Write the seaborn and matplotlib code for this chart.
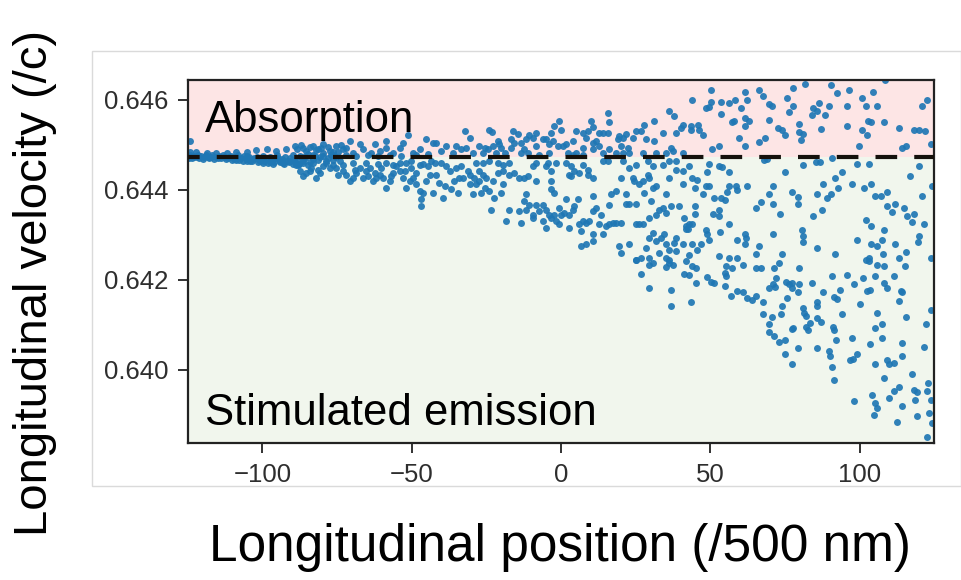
import numpy as np
import pandas as pd
import matplotlib
matplotlib.use("Agg")
import matplotlib.pyplot as plt
import matplotlib.patches as patches
import seaborn as sns

# =========================
# Data
# =========================
THRESHOLD = 0.64472          # resonance velocity (dashed line)
X_LIM = (-125, 125)
Y_LIM = (0.63837, 0.64644)
X_TICKS = [-100, -50, 0, 50, 100]
Y_TICKS = [0.640, 0.642, 0.644, 0.646]

# dense band right on the line, x < -75
band_x = [-124.8, -124.2, -123.5, -122.9, -122.0, -121.2, -120.5, -119.6, -118.8, -118.0,
          -117.1, -116.3, -115.5, -114.6, -113.8, -112.9, -112.1, -111.2, -110.4, -109.5,
          -108.7, -107.8, -107.0, -106.1, -105.3, -104.4, -103.5, -102.7, -101.8, -101.0,
          -100.1, -99.3, -98.4, -97.6, -96.7, -95.9, -95.0, -94.2, -93.3, -92.5,
          -91.6, -90.8, -89.9, -89.1, -88.2, -87.4, -86.5, -85.7, -84.8, -84.0,
          -83.1, -82.3, -81.4, -80.6, -79.7, -78.8, -78.0, -77.1, -76.3, -75.4, -74.6,
          -124.5, -123.0, -121.6, -120.0, -118.3, -116.8, -115.0, -113.3, -111.6, -110.0,
          -108.2, -106.6, -105.0, -103.0, -101.4, -99.8, -98.0, -96.2, -94.6, -92.9,
          -91.2, -89.5, -87.8, -86.0]
band_y = [0.64474, 0.64478, 0.64471, 0.64476, 0.64473, 0.64470, 0.64475, 0.64472, 0.64477, 0.64471,
          0.64474, 0.64469, 0.64473, 0.64476, 0.64470, 0.64474, 0.64468, 0.64472, 0.64475, 0.64469,
          0.64473, 0.64466, 0.64471, 0.64475, 0.64468, 0.64472, 0.64465, 0.64470, 0.64474, 0.64467,
          0.64471, 0.64463, 0.64469, 0.64474, 0.64466, 0.64471, 0.64477, 0.64462, 0.64468, 0.64474,
          0.64465, 0.64471, 0.64478, 0.64461, 0.64468, 0.64475, 0.64464, 0.64470, 0.64479, 0.64462,
          0.64468, 0.64476, 0.64466, 0.64472, 0.64481, 0.64463, 0.64470, 0.64478, 0.64467, 0.64474, 0.64484,
          0.64470, 0.64474, 0.64477, 0.64469, 0.64474, 0.64478, 0.64470, 0.64477, 0.64471, 0.64466,
          0.64477, 0.64464, 0.64476, 0.64468, 0.64461, 0.64476, 0.64460, 0.64462, 0.64470, 0.64458,
          0.64461, 0.64466, 0.64457, 0.64473]

# left part, x from -125 to -42
left_x = [-51.2, -70.8, -67.4, -62.4, -58.5, -54.0, -124.3, -45.1, -42.9, -79.7,
          -83.0, -86.4, -85.3, -92.0, -95.3, -98.6, -102.0, -105.3, -108.7, -112.0,
          -115.4, -118.7, -122.1, -124.3, -75.2, -73.0, -66.3, -60.7, -56.3, -49.6,
          -47.3, -89.2, -81.4, -77.5, -69.7, -63.5, -52.9, -58.5,
          -108.7, -105.3, -104.2, -100.9, -99.8, -97.5, -96.4, -94.2, -93.1, -90.9,
          -89.7, -88.0, -86.4, -84.7, -83.0,
          -88.6, -87.5, -86.4, -85.3, -83.6, -81.9, -80.8, -79.7, -78.6, -77.5,
          -76.3, -75.2, -74.1, -71.9, -70.8, -69.7, -68.5, -67.4, -66.3, -65.2,
          -64.1, -63.0, -61.9, -60.7, -59.6, -58.5, -57.4, -56.3, -55.2, -54.0,
          -52.9, -51.8, -50.7, -49.6, -48.5, -47.3, -46.8, -46.8, -46.2, -42.9,
          -45.1, -44.0, -58.5, -54.0, -47.3, -51.8, -69.7, -73.0,
          -84.1, -81.4, -74.7, -73.0, -69.1, -64.6, -62.4, -60.2, -56.8, -52.4,
          -50.1, -48.5, -44.6, -42.3, -65.2, -61.3, -56.3, -50.1, -46.2, -43.4,
          -71.9, -68.5, -64.6, -61.3, -57.4, -53.5, -48.5, -44.6, -83.0, -79.7, -76.3,
          -88.5, -87.0, -84.2, -82.0, -80.3, -78.0, -76.5, -73.8, -72.0]
left_y = [0.64522, 0.64508, 0.64501, 0.64502, 0.64493, 0.64493, 0.64508, 0.64512, 0.64504, 0.64501,
          0.64497, 0.64493, 0.64486, 0.64490, 0.64486, 0.64490, 0.64488, 0.64485, 0.64485, 0.64482,
          0.64482, 0.64482, 0.64485, 0.64485, 0.64497, 0.64490, 0.64490, 0.64486, 0.64482, 0.64482,
          0.64490, 0.64497, 0.64490, 0.64486, 0.64482, 0.64482, 0.64504, 0.64508,
          0.64467, 0.64465, 0.64464, 0.64464, 0.64460, 0.64462, 0.64458, 0.64464, 0.64460, 0.64464,
          0.64458, 0.64455, 0.64460, 0.64456, 0.64460,
          0.64456, 0.64441, 0.64430, 0.64438, 0.64449, 0.64427, 0.64438, 0.64453, 0.64460, 0.64449,
          0.64456, 0.64449, 0.64464, 0.64434, 0.64419, 0.64427, 0.64438, 0.64449, 0.64427, 0.64441,
          0.64449, 0.64419, 0.64427, 0.64434, 0.64427, 0.64405, 0.64419, 0.64438, 0.64453, 0.64441,
          0.64427, 0.64405, 0.64419, 0.64427, 0.64412, 0.64397, 0.64379, 0.64364, 0.64393, 0.64393,
          0.64419, 0.64434, 0.64460, 0.64460, 0.64456, 0.64460, 0.64460, 0.64456,
          0.64441, 0.64445, 0.64434, 0.64441, 0.64445, 0.64430, 0.64438, 0.64449, 0.64430, 0.64441,
          0.64449, 0.64438, 0.64453, 0.64460, 0.64460, 0.64458, 0.64455, 0.64464, 0.64458, 0.64464,
          0.64478, 0.64475, 0.64478, 0.64475, 0.64477, 0.64475, 0.64477, 0.64480, 0.64478, 0.64475, 0.64477,
          0.64490, 0.64499, 0.64495, 0.64488, 0.64492, 0.64495, 0.64485, 0.64500, 0.64492]

# middle part, x from -42 to 42
mid_x = [15.6, 16.2, 10.0, 10.6, 8.9, -0.5, -2.5, -3.3, 0.0, -5.0,
         -8.4, -9.5, -10.6, -11.7, -14.5, -16.2, -16.7, -15.6, -16.7, -24.0,
         -23.1, -21.2, -32.3, -30.6, -38.5, -41.8, -35.1, -33.4, -31.8, -27.3,
         -25.6, -26.2, -24.5, -22.8, -20.6, -20.1, -18.9, -13.4, -12.3, -11.1,
         -8.4, -6.1, -3.9, -2.8, -1.1, 0.6, 1.7, 3.9, 5.0, 7.3,
         8.4, 7.3, 10.6, 12.8, 14.0, 15.6, 11.7, 10.6, 12.8, 16.2,
         19.0, 19.5, 20.6, 21.8, 24.0, 20.1, 22.3, 25.1, 26.8, 27.9,
         28.4, 31.2, 31.2, 34.0, 36.3, 37.9, 38.5, 40.2, 40.7, 36.8,
         37.4, 40.7, 2.2, 3.9, 5.0, 7.3, 14.0, 18.4, 20.6, 35.1,
         31.8, 27.3, 22.9, -3.9, -7.2, -13.4, -21.7, -29.5, -36.2, -40.1,
         # below the line
         -40.1, -38.5, -41.8, -37.3, -35.1, -33.4, -31.2, -28.4, -26.2, -24.0,
         -21.2, -19.5, -17.3, -40.7, -39.0, -36.8, -35.7, -34.6, -34.0, -32.9,
         -30.6, -30.6, -29.0, -28.4, -27.3, -27.3, -26.2, -25.6, -25.1, -24.0,
         -22.8, -22.3, -39.6, -29.5, -26.7, -20.1, -19.5, -21.2, -19.5, -17.3,
         -15.6, -13.9, -12.3, -11.1, -8.4, -9.5, -8.4, -5.0, -3.3, -3.3,
         -3.3, -2.2, -4.5, -1.7, 1.7, 3.4, 2.8, 4.5, 3.4, 6.1,
         7.3, 8.9, 8.9, 10.6, 14.0, 15.6, 10.6, 5.6, 1.7, -11.7,
         -12.3, -10.6, -11.7, -9.5, -8.4, -7.2, -6.1, -5.0, -3.9, -2.2,
         -0.5, 0.0, 1.1, 2.8, 3.9, 4.5, -23.4, -17.3, -18.4, -13.9,
         -13.4, -9.5, -6.1, -5.0, -3.3, -1.7, -0.5, 2.8, 6.1, 7.3,
         8.4, 9.5, 10.6, 11.7, 13.4, 12.8, 14.0, 15.1, 10.6, 10.6,
         6.7, 6.7, 8.4, 16.2, 16.7, 18.4, 21.8, 21.8, 22.9, 25.1,
         20.1, 22.9, 24.0, 24.5, 26.2, 27.3, 27.9, 29.0, 29.6, 30.7,
         31.8, 35.1, 36.3, 38.5, 40.7, 30.1, 31.8, 32.9, 34.0, 35.1,
         36.8, 39.6, 16.2, 17.3, 18.4, 20.1, 25.1, 26.2, 27.3, 29.6,
         30.7, 29.6, 31.8, 33.5, 34.6, 35.1, 36.3, 37.9, 38.5, 19.5,
         20.1, 22.9, 25.1, 26.8, 28.4, 29.6, 32.9, 35.1, 36.3, 38.5,
         40.7, 41.3, 41.8, 40.7, 20.6, 25.1, 29.0, 30.7, 34.0, 36.3, 38.5,
         25.1, 29.6, 30.7, 35.1, 36.3, 37.4, 26.8, 29.6, 36.8, 36.8, 41.3]
mid_y = [0.64570, 0.64551, 0.64553, 0.64539, 0.64530, 0.64553, 0.64541, 0.64527, 0.64533, 0.64512,
         0.64527, 0.64516, 0.64522, 0.64512, 0.64524, 0.64530, 0.64512, 0.64504, 0.64493, 0.64534,
         0.64529, 0.64508, 0.64530, 0.64516, 0.64497, 0.64504, 0.64497, 0.64490, 0.64493, 0.64497,
         0.64493, 0.64482, 0.64490, 0.64497, 0.64501, 0.64493, 0.64482, 0.64504, 0.64490, 0.64482,
         0.64497, 0.64512, 0.64501, 0.64508, 0.64497, 0.64497, 0.64501, 0.64508, 0.64530, 0.64527,
         0.64516, 0.64493, 0.64504, 0.64527, 0.64527, 0.64527, 0.64508, 0.64490, 0.64497, 0.64490,
         0.64512, 0.64519, 0.64516, 0.64523, 0.64516, 0.64497, 0.64493, 0.64530, 0.64530, 0.64545,
         0.64512, 0.64553, 0.64508, 0.64527, 0.64575, 0.64564, 0.64527, 0.64538, 0.64545, 0.64493,
         0.64486, 0.64482, 0.64482, 0.64478, 0.64482, 0.64478, 0.64482, 0.64482, 0.64482, 0.64482,
         0.64482, 0.64482, 0.64482, 0.64482, 0.64478, 0.64482, 0.64482, 0.64482, 0.64482, 0.64486,
         # below the line
         0.64460, 0.64453, 0.64434, 0.64441, 0.64449, 0.64453, 0.64441, 0.64460, 0.64460, 0.64464,
         0.64460, 0.64456, 0.64460, 0.64415, 0.64408, 0.64401, 0.64419, 0.64393, 0.64427, 0.64427,
         0.64434, 0.64412, 0.64427, 0.64412, 0.64419, 0.64441, 0.64434, 0.64405, 0.64427, 0.64397,
         0.64419, 0.64382, 0.64382, 0.64390, 0.64393, 0.64393, 0.64412, 0.64438, 0.64441, 0.64434,
         0.64438, 0.64427, 0.64427, 0.64430, 0.64419, 0.64453, 0.64460, 0.64453, 0.64441, 0.64419,
         0.64401, 0.64393, 0.64460, 0.64460, 0.64460, 0.64453, 0.64434, 0.64441, 0.64430, 0.64438,
         0.64456, 0.64445, 0.64434, 0.64427, 0.64464, 0.64464, 0.64386, 0.64379, 0.64379, 0.64390,
         0.64375, 0.64367, 0.64356, 0.64345, 0.64367, 0.64353, 0.64367, 0.64356, 0.64345, 0.64345,
         0.64360, 0.64345, 0.64349, 0.64345, 0.64356, 0.64364, 0.64356, 0.64356, 0.64330, 0.64353,
         0.64327, 0.64338, 0.64330, 0.64316, 0.64338, 0.64330, 0.64323, 0.64316, 0.64323, 0.64330,
         0.64327, 0.64330, 0.64353, 0.64360, 0.64345, 0.64323, 0.64301, 0.64319, 0.64301, 0.64286,
         0.64308, 0.64275, 0.64279, 0.64367, 0.64390, 0.64397, 0.64390, 0.64369, 0.64369, 0.64369,
         0.64427, 0.64449, 0.64427, 0.64419, 0.64412, 0.64419, 0.64393, 0.64434, 0.64427, 0.64405,
         0.64408, 0.64390, 0.64427, 0.64445, 0.64412, 0.64375, 0.64345, 0.64356, 0.64360, 0.64349,
         0.64364, 0.64364, 0.64323, 0.64327, 0.64327, 0.64327, 0.64323, 0.64323, 0.64323, 0.64338,
         0.64304, 0.64293, 0.64286, 0.64293, 0.64301, 0.64279, 0.64267, 0.64282, 0.64293, 0.64275,
         0.64260, 0.64279, 0.64245, 0.64249, 0.64271, 0.64249, 0.64260, 0.64249, 0.64245, 0.64264,
         0.64279, 0.64338, 0.64312, 0.64441, 0.64464, 0.64456, 0.64464, 0.64453, 0.64456, 0.64464, 0.64464,
         0.64244, 0.64234, 0.64237, 0.64228, 0.64237, 0.64234, 0.64213, 0.64181, 0.64178, 0.64141, 0.64213]

# right part, x from 42 to 125, above the line
right_up_x = [81.7, 108.5, 90.5, 92.5, 50.2, 61.6, 66.3, 67.7, 77.7, 96.4,
              104.6, 44.0, 50.2, 48.5, 49.6, 53.5, 56.1, 58.3, 62.4, 60.2,
              69.7, 70.6, 75.8, 77.7, 76.4, 86.4, 84.5, 85.6, 84.0, 88.4,
              89.7, 95.9, 100.7, 102.0, 105.9, 122.6, 121.0, 53.5, 57.2, 58.0,
              61.6, 63.0, 61.6, 69.7, 43.5, 43.5, 46.0, 46.3, 47.4, 72.5,
              74.1, 75.0, 79.7, 79.7, 81.0, 80.4, 87.0, 95.9, 100.7, 102.9,
              103.7, 102.6, 108.1, 113.2, 118.2, 119.8, 121.9, 59.6, 61.6, 66.3,
              68.3, 50.7, 53.0, 99.8, 114.3, 115.4, 123.8]
right_up_y = [0.64636, 0.64643, 0.64633, 0.64616, 0.64621, 0.64618, 0.64622, 0.64608, 0.64627, 0.64621,
              0.64618, 0.64600, 0.64596, 0.64582, 0.64584, 0.64596, 0.64593, 0.64600, 0.64600, 0.64582,
              0.64591, 0.64587, 0.64603, 0.64587, 0.64573, 0.64593, 0.64582, 0.64575, 0.64566, 0.64566,
              0.64587, 0.64587, 0.64603, 0.64587, 0.64587, 0.64600, 0.64587, 0.64569, 0.64550, 0.64554,
              0.64559, 0.64553, 0.64541, 0.64556, 0.64541, 0.64534, 0.64545, 0.64534, 0.64522, 0.64538,
              0.64533, 0.64522, 0.64547, 0.64529, 0.64524, 0.64510, 0.64536, 0.64541, 0.64533, 0.64554,
              0.64551, 0.64521, 0.64551, 0.64538, 0.64533, 0.64533, 0.64530, 0.64516, 0.64498, 0.64507,
              0.64516, 0.64490, 0.64498, 0.64498, 0.64493, 0.64497, 0.64501]

# right part, x from 42 to 125, below the line
right_dn_x = [42.7, 49.6, 53.0, 53.8, 56.3, 68.0, 69.1, 75.0, 81.0, 85.3,
              86.6, 90.9, 94.0, 99.2, 103.1, 119.8, 44.0, 45.7, 49.0, 48.5,
              49.6, 44.9, 56.3, 58.5, 59.1, 62.4, 71.1, 47.4, 51.3, 53.5,
              55.0, 55.7, 69.7, 77.3, 79.2, 79.2, 85.8, 87.7, 89.2, 90.4,
              91.8, 92.9, 97.5, 101.5, 103.8, 105.1, 107.0, 109.3, 109.3, 110.9,
              112.0, 114.8, 116.0, 118.2, 117.4, 121.0, 116.7, 124.3, 44.9, 44.9,
              51.0, 53.0, 53.0, 65.2, 66.9, 71.1, 73.4, 84.5, 87.3, 102.0,
              103.7, 108.0, 121.5, 41.8, 42.9, 44.0, 42.4, 48.5, 49.0, 49.6,
              53.2, 56.3, 61.6, 62.1, 61.6, 59.1, 71.1, 80.8, 81.0, 81.0,
              85.8, 91.8, 99.2, 103.7, 105.9, 107.4, 112.0, 115.4, 119.8, 119.6,
              44.0, 46.8, 45.7, 42.9, 53.0, 56.3, 59.1, 65.2, 66.3, 73.9,
              103.1, 107.9, 113.2, 123.8,
              41.8, 44.0, 45.1, 42.9, 45.1, 43.5, 55.2, 55.0, 55.2, 55.0,
              57.4, 60.8, 65.2, 66.9, 71.4, 73.0, 79.7, 48.8, 50.2, 51.3,
              59.1, 60.8, 62.4, 64.1, 65.4, 67.7, 56.9, 69.7, 71.0, 71.9,
              71.7, 75.3, 76.4, 77.3, 77.5, 79.2, 79.7, 84.0, 75.8, 74.1,
              73.6, 70.8, 67.7, 69.7, 69.7, 71.4, 73.0, 75.0, 75.0, 77.3,
              79.2, 77.3, 77.7, 81.0, 81.4, 81.9, 81.9, 82.8, 83.3, 85.8,
              85.8, 85.8, 87.0, 85.8, 87.7, 90.9, 89.7, 90.0, 90.9, 91.3,
              91.1, 91.3, 92.0, 91.4, 92.5, 93.3, 94.0, 95.9, 98.1, 100.0,
              97.5, 96.7, 97.9, 99.2, 101.1, 102.6, 103.4, 103.4, 105.3, 105.9,
              108.1, 108.1, 109.3, 111.5, 105.3, 105.9, 107.4, 107.6, 105.3, 109.3,
              110.0, 111.5, 113.7, 114.3, 113.2, 115.2, 115.4, 114.1, 114.1, 117.4,
              108.1, 118.2, 119.3, 122.6, 123.8, 122.1, 121.5, 123.0, 123.8, 118.7,
              113.2, 110.0, 111.5, 104.0, 105.3, 105.9, 104.8, 98.1, 114.1, 112.6,
              119.3, 123.2, 124.1, 122.6, 102.0, 103.1]
right_dn_y = [0.64453, 0.64458, 0.64453, 0.64450, 0.64440, 0.64467, 0.64469, 0.64440, 0.64456, 0.64462,
              0.64462, 0.64471, 0.64440, 0.64458, 0.64458, 0.64453, 0.64427, 0.64422, 0.64440, 0.64408,
              0.64409, 0.64405, 0.64408, 0.64409, 0.64400, 0.64409, 0.64409, 0.64391, 0.64382, 0.64382,
              0.64378, 0.64396, 0.64391, 0.64396, 0.64384, 0.64369, 0.64391, 0.64413, 0.64382, 0.64391,
              0.64427, 0.64405, 0.64413, 0.64405, 0.64413, 0.64387, 0.64387, 0.64396, 0.64364, 0.64351,
              0.64369, 0.64360, 0.64342, 0.64347, 0.64329, 0.64387, 0.64431, 0.64409, 0.64364, 0.64347,
              0.64347, 0.64356, 0.64342, 0.64360, 0.64373, 0.64369, 0.64347, 0.64342, 0.64356, 0.64333,
              0.64320, 0.64311, 0.64324, 0.64319, 0.64323, 0.64324, 0.64312, 0.64311, 0.64302, 0.64289,
              0.64307, 0.64324, 0.64302, 0.64293, 0.64280, 0.64289, 0.64302, 0.64311, 0.64298, 0.64284,
              0.64271, 0.64258, 0.64289, 0.64280, 0.64276, 0.64289, 0.64280, 0.64262, 0.64298, 0.64284,
              0.64280, 0.64280, 0.64267, 0.64256, 0.64253, 0.64249, 0.64249, 0.64258, 0.64276, 0.64258,
              0.64249, 0.64258, 0.64249, 0.64249,
              0.64241, 0.64231, 0.64226, 0.64211, 0.64194, 0.64151, 0.64230, 0.64215, 0.64209, 0.64187,
              0.64226, 0.64234, 0.64227, 0.64226, 0.64227, 0.64238, 0.64227, 0.64206, 0.64196, 0.64194,
              0.64176, 0.64172, 0.64159, 0.64156, 0.64164, 0.64151, 0.64164, 0.64181, 0.64191, 0.64204,
              0.64185, 0.64195, 0.64191, 0.64194, 0.64181, 0.64173, 0.64191, 0.64194, 0.64159, 0.64141,
              0.64124, 0.64118, 0.64124, 0.64102, 0.64084, 0.64075, 0.64062, 0.64067, 0.64036, 0.64013,
              0.64048, 0.64090, 0.64093, 0.64137, 0.64127, 0.64120, 0.64096, 0.64089, 0.64104, 0.64150,
              0.64142, 0.64115, 0.64107, 0.64048, 0.64172, 0.64209, 0.64043, 0.64031, 0.64007, 0.63978,
              0.64096, 0.64089, 0.64067, 0.64161, 0.64157, 0.64178, 0.64124, 0.64211, 0.64191, 0.64147,
              0.64070, 0.64022, 0.64025, 0.64035, 0.64204, 0.64176, 0.64178, 0.64058, 0.64209, 0.64234,
              0.64230, 0.64194, 0.64182, 0.64209, 0.64093, 0.64127, 0.64102, 0.64070, 0.64013, 0.64022,
              0.64013, 0.64016, 0.64176, 0.64172, 0.64154, 0.64230, 0.64118, 0.64059, 0.64030, 0.63990,
              0.63981, 0.63956, 0.63951, 0.63953, 0.64133, 0.64102, 0.64052, 0.63972, 0.63933, 0.63933,
              0.63963, 0.63937, 0.63954, 0.63945, 0.63926, 0.63915, 0.63900, 0.63932, 0.63919, 0.63885,
              0.63898, 0.63904, 0.63883, 0.63852, 0.64244, 0.64241]

x_all = band_x + left_x + mid_x + right_up_x + right_dn_x
y_all = band_y + left_y + mid_y + right_up_y + right_dn_y
df = pd.DataFrame({"position": x_all, "velocity": y_all})

# =========================
# Plot
# =========================
sns.set_theme(style="ticks")
plt.rcParams["font.family"] = ["Liberation Sans", "DejaVu Sans"]

fig = plt.figure(figsize=(9.62, 5.8), dpi=100)
ax = fig.add_axes([0.1951, 0.2357, 0.7761, 0.6264])

# shaded regions
ax.axhspan(THRESHOLD, Y_LIM[1], color="#fde5e5", zorder=0, lw=0)
ax.axhspan(Y_LIM[0], THRESHOLD, color="#f1f6ed", zorder=0, lw=0)

sns.scatterplot(data=df, x="position", y="velocity", ax=ax,
                color="#1f77b4", s=25, linewidth=0, alpha=0.92, zorder=2)

ax.axhline(THRESHOLD, color="#15110c", lw=3, ls=(2.4, (5.2, 4.1)), zorder=3)

ax.set_xlim(*X_LIM)
ax.set_ylim(*Y_LIM)
ax.set_xticks(X_TICKS)
ax.set_yticks(Y_TICKS)
ax.set_yticklabels([f"{v:.3f}" for v in Y_TICKS])
ax.set_xlabel("")
ax.set_ylabel("")
ax.tick_params(labelsize=18.5, length=7, width=1.3, pad=7, colors="#222222",
               labelcolor="#2e2e2e")
for sp in ax.spines.values():
    sp.set_linewidth(1.6)
    sp.set_color("#222222")

ax.text(0.023, 0.858, "Absorption", transform=ax.transAxes, fontsize=31.5,
        color="black", va="baseline", ha="left")
ax.text(0.023, 0.050, "Stimulated emission", transform=ax.transAxes, fontsize=31.5,
        color="black", va="baseline", ha="left")

# big axis labels outside the framed figure
fig.text(35 / 962, 1 - 283 / 580, "Longitudinal velocity (/c)", rotation=90,
         fontsize=34, ha="center", va="center", color="black")
fig.text(560 / 962, 1 - 548 / 580, "Longitudinal position (/500 nm)",
         fontsize=37, ha="center", va="center", color="black")

# light frame of the embedded figure
fig.patches.append(patches.Rectangle((92 / 962, 1 - 486 / 580), (961 - 92) / 962,
                                     (486 - 51) / 580, transform=fig.transFigure,
                                     fill=False, edgecolor="#dadada", lw=1.0))

fig.savefig("out.png", dpi=100)
